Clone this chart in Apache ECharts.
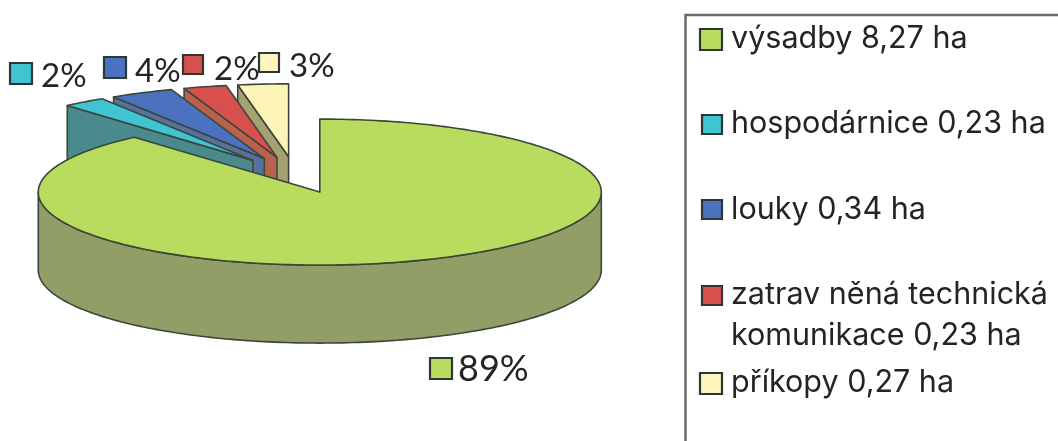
<!DOCTYPE html>
<html><head><meta charset="utf-8">
<style>html,body{margin:0;padding:0;background:#fff}#c{width:1058px;height:441px}</style>
<script src="https://cdn.jsdelivr.net/npm/echarts@6/dist/echarts.min.js"></script>
</head><body><div id="c"></div>
<script>
const categories = ['výsadby','hospodárnice','louky','zatravněná technická komunikace','příkopy'];
const hectares = [8.27,0.23,0.34,0.23,0.27];
const percents = [89,2,4,2,3];
const legendLines = [['výsadby 8,27 ha'],['hospodárnice 0,23 ha'],['louky 0,34 ha'],['zatrav něná technická','komunikace 0,23 ha'],['příkopy 0,27 ha']];
const topColors = ['#b8dc5e','#3fc4d2','#4a72bf','#d8504e','#fdf4b8'];
const wallColors = ['#919f66','#4b8a8c','#56709f','#b8624c','#a5a272'];
const swatchColors = ['#b8dc5e','#3fc4d2','#4a72bf','#d8504e','#fdf4c0'];

const EDGE='#3c463c', TXT='#242424', FONT='Inter, Lato, sans-serif', PFONT='Lato, sans-serif';
const geo={cx:295,cy:175,rx:281.5,ry:73,depth:78,explode:0.25};
const total=hectares.reduce((a,b)=>a+b,0);
const starts=[];hectares.reduce((acc,v,i)=>{starts[i]=acc;return acc+v/total*Math.PI*2;},0);

function renderItem(params,api){
  const i=api.value(0), a1=starts[i], a2=a1+api.value(1)/total*Math.PI*2, mid=(a1+a2)/2;
  const C=[geo.cx+geo.explode*geo.rx*Math.sin(mid), geo.cy-geo.explode*geo.ry*Math.cos(mid)];
  const P=(t,d=0)=>[C[0]+geo.rx*Math.sin(t), C[1]-geo.ry*Math.cos(t)+d];
  const style=f=>({fill:f,stroke:EDGE,lineWidth:1.6,lineJoin:'round'});
  const kids=[];
  const poly=(pts,f)=>kids.push({type:'polygon',shape:{points:pts},style:style(f)});
  const arc=(s,e,d=0)=>{const n=Math.max(2,Math.ceil((e-s)/0.02)),o=[];for(let k=0;k<=n;k++)o.push(P(s+(e-s)*k/n,d));return o;};
  // radial walls
  const wall=t=>poly([C,P(t),P(t,geo.depth),[C[0],C[1]+geo.depth]],wallColors[i]);
  if(Math.sin(a1)<-1e-6) wall(a1);
  if(Math.sin(a2)>1e-6) wall(a2);
  // outer wall (front half of the rim)
  const s=Math.max(a1,Math.PI/2), e=Math.min(a2,Math.PI*1.5);
  if(e>s) poly(arc(s,e).concat(arc(s,e,geo.depth).reverse()),wallColors[i]);
  // top face
  poly([C].concat(arc(a1,a2)),topColors[i]);
  return {type:'group',children:kids};
}

// percentage labels and legend entries, placed as in the reference
const pctPos=[[430,358,22,458,369,36],[10,63,22,41,76,33],[104,57,22,135,71,33],[183,55,20,214,69,33],[259,53,20,289,66,33]];
const legPos=[[700,29,22,39],[702,115,20,124],[702,200,20,210],[702,286,20,295],[700,373,22,383]];
const graphics=[];
graphics.push({type:'polyline',shape:{points:[[685.5,441],[685.5,15],[1058,15]]},style:{stroke:'#6a6a6a',lineWidth:2.5,fill:null}});
percents.forEach((p,i)=>{
  const q=pctPos[i];
  graphics.push({type:'rect',shape:{x:q[0],y:q[1],width:q[2],height:q[2]-1},style:{fill:swatchColors[i],stroke:'#2f3636',lineWidth:2.2}});
  graphics.push({type:'text',x:q[3],y:q[4],style:{text:p+'%',fill:TXT,font:'400 '+q[5]+'px '+PFONT,textVerticalAlign:'middle'}});
});
legendLines.forEach((lines,i)=>{
  const q=legPos[i];
  graphics.push({type:'rect',shape:{x:q[0],y:q[1],width:q[2],height:q[2]-1},style:{fill:swatchColors[i],stroke:'#2f3636',lineWidth:2.2}});
  lines.forEach((t,j)=>graphics.push({type:'text',x:731,y:q[3]+j*41,style:{text:t,fill:TXT,font:'400 30.5px '+FONT,textVerticalAlign:'middle'}}));
});

const data=hectares.map((v,i)=>({name:categories[i],value:[i,v]})).reverse();
const chart=echarts.init(document.getElementById('c'),null,{renderer:'canvas'});
chart.setOption({animation:false,backgroundColor:'#fff',
  series:[{type:'custom',coordinateSystem:'none',renderItem,data,encode:{value:1}}],
  graphic:{elements:graphics}});
</script></body></html>
